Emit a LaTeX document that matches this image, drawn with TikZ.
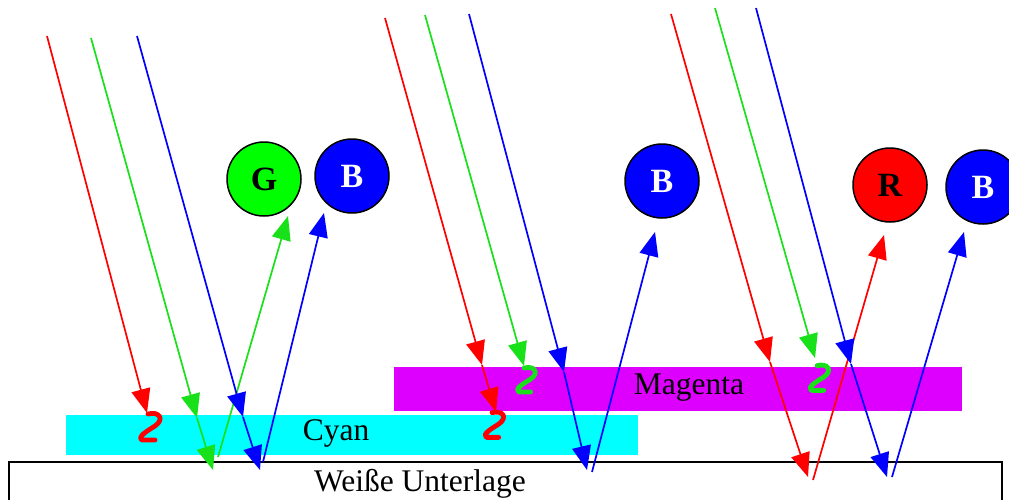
\documentclass[tikz,border=0pt]{standalone}
\usepackage{fontspec}
\setmainfont{Liberation Serif}
\usetikzlibrary{arrows.meta}
\definecolor{rd}{RGB}{255,0,0}
\definecolor{gnline}{RGB}{25,225,25}
\definecolor{gnfill}{RGB}{0,255,0}
\definecolor{bl}{RGB}{0,0,255}
\definecolor{cy}{RGB}{0,255,255}
\definecolor{mg}{RGB}{221,0,255}
\tikzset{
  ray/.style={line width=1.7pt, -{Triangle[length=24pt,width=19pt]}},
  ball/.style={circle, draw=black, line width=1.5pt, minimum size=74pt, inner sep=0pt,
               font=\fontsize{34}{36}\selectfont\bfseries},
  lbl/.style={font=\fontsize{31.5}{35}\selectfont, inner sep=0pt},
  absorbed/.pic={\draw[line width=4.8pt, line cap=round, line join=round, pic actions]
     (-2,-13) .. controls (9,-16) and (15,-8) .. (5,-1)
              .. controls (-3,4) and (-13,10) .. (-8,13) -- (5,13);}
}
\begin{document}
\begin{tikzpicture}[x=1pt,y=-1pt]
\clip (0,0) rectangle (1009,499);
\fill[white] (0,0) rectangle (1009,499);

% white base
\draw[line width=1.6pt] (9,520) -- (9,462) -- (1002,462) -- (1002,520);
\node[lbl] (base) at (420,484) {Weiße Unterlage};

% colour layers
\fill[cy] (66,415) rectangle (638,455);
\node[lbl] (cyan) at (336,433) {Cyan};
\fill[mg] (394,367) rectangle (962,411);
\node[lbl] (magenta) at (689,388) {Magenta};

% reflected colours
\node[ball, fill=gnfill] (g1) at (264,179) {G};
\node[ball, fill=bl, text=white] (b1) at (352,176) {B};
\node[ball, fill=bl, text=white] (b2) at (662,181) {B};
\node[ball, fill=rd] (r3) at (890,185) {R};
\node[ball, fill=bl, text=white] (b3) at (983,187) {B};

% ---- cyan only
\coordinate (r1s) at (47,36);   \coordinate (r1e) at (147,413);
\coordinate (g1s) at (91,38);   \coordinate (g1m) at (197,418); \coordinate (g1e) at (213,470);
\coordinate (g1u) at (218,457); \coordinate (g1t) at (288,216);
\coordinate (b1s) at (137,36);  \coordinate (b1m) at (243,417); \coordinate (b1e) at (260,470);
\coordinate (b1u) at (263,462); \coordinate (b1t) at (324,213);
\draw[ray, rd] (r1s) -- (r1e);
\draw[ray, gnline] (g1s) -- (g1m);
\draw[ray, gnline] (g1m) -- (g1e);
\draw[ray, gnline] (g1u) -- (g1t);
\draw[ray, bl] (b1s) -- (b1m);
\draw[ray, bl] (b1m) -- (b1e);
\draw[ray, bl] (b1u) -- (b1t);
\pic[rd] at (150,427) {absorbed};

% ---- cyan over magenta
\coordinate (r2s) at (385,18);  \coordinate (r2m) at (482,365); \coordinate (r2e) at (496,412);
\coordinate (g2s) at (425,15);  \coordinate (g2e) at (524,366);
\coordinate (b2s) at (469,14);  \coordinate (b2m) at (564,372); \coordinate (b2e) at (587,470);
\coordinate (b2u) at (592,472); \coordinate (b2t) at (655,232);
\draw[ray, rd] (r2s) -- (r2m);
\draw[ray, rd] (r2m) -- (r2e);
\draw[ray, gnline] (g2s) -- (g2e);
\draw[ray, bl] (b2s) -- (b2m);
\draw[ray, bl] (b2m) -- (b2e);
\draw[ray, bl] (b2u) -- (b2t);
\pic[rd, scale=0.95] at (494,425) {absorbed};
\pic[gnline, scale=0.92] at (526,380) {absorbed};

% ---- magenta only
\coordinate (r3s) at (671,14);  \coordinate (r3m) at (770,362); \coordinate (r3e) at (808,477);
\coordinate (r3u) at (813,480); \coordinate (r3t) at (884,235);
\coordinate (g3s) at (715,8);   \coordinate (g3e) at (815,358);
\coordinate (b3s) at (756,8);   \coordinate (b3m) at (851,364); \coordinate (b3e) at (887,477);
\coordinate (b3u) at (892,477); \coordinate (b3t) at (964,232);
\draw[ray, rd] (r3s) -- (r3m);
\draw[ray, rd] (r3m) -- (r3e);
\draw[ray, rd] (r3u) -- (r3t);
\draw[ray, gnline] (g3s) -- (g3e);
\draw[ray, bl] (b3s) -- (b3m);
\draw[ray, bl] (b3m) -- (b3e);
\draw[ray, bl] (b3u) -- (b3t);
\pic[gnline, scale=0.95] at (819,378) {absorbed};
\end{tikzpicture}
\end{document}
